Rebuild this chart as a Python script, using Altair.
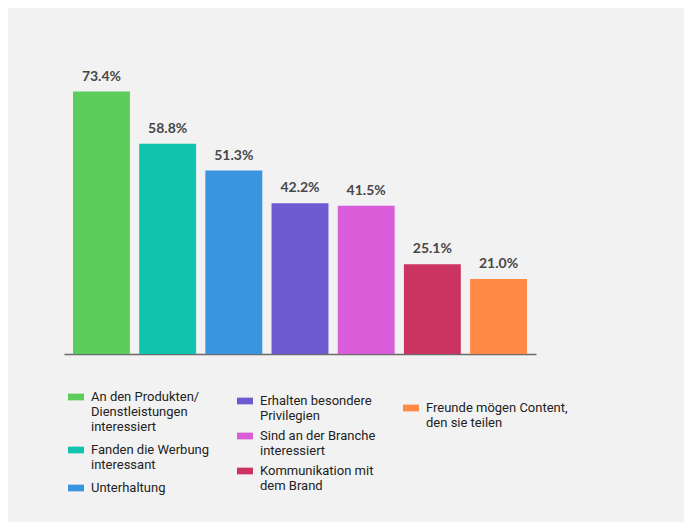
import altair as alt
import pandas as pd

categories = [
    "An den Produkten/|Dienstleistungen|interessiert",
    "Fanden die Werbung|interessant",
    "Unterhaltung",
    "Erhalten besondere|Privilegien",
    "Sind an der Branche|interessiert",
    "Kommunikation mit|dem Brand",
    "Freunde mögen Content,|den sie teilen",
]
values = [73.4, 58.8, 51.3, 42.2, 41.5, 25.1, 21.0]
value_labels = ["73.4%", "58.8%", "51.3%", "42.2%", "41.5%", "25.1%", "21.0%"]
colors = ["#5ccc5a", "#10c4b0", "#3a95e0", "#6d5ad0", "#d95cd9", "#cb3361", "#fe8a46"]
legend_group = [0, 0, 0, 1, 1, 1, 2]

df = pd.DataFrame({
    "cat": categories,
    "value": values,
    "label": value_labels,
    "group": legend_group,
})

FONT = "Roboto"
rect_symbol = "M-1,-0.42H1V0.42H-1Z"

legend_pos = {0: (4, 321), 1: (173, 325), 2: (339, 332)}
row_pad = {0: 8, 1: 5, 2: 5}

x_enc = alt.X(
    "cat:N",
    sort=categories,
    title=None,
    scale=alt.Scale(paddingInner=0.14, paddingOuter=0.136),
    axis=alt.Axis(labels=False, ticks=False, domainColor="#6b6b6b", domainWidth=1.5, grid=False),
)
y_enc = alt.Y("value:Q", scale=alt.Scale(domain=[0, 80]), axis=None)

layers = []
for g in range(3):
    cats_g = [c for c, gg in zip(categories, legend_group) if gg == g]
    cols_g = [col for col, gg in zip(colors, legend_group) if gg == g]
    lx, ly = legend_pos[g]
    layers.append(
        alt.Chart(df)
        .transform_filter(alt.datum.group == g)
        .mark_bar(cornerRadius=0)
        .encode(
            x=x_enc,
            y=y_enc,
            color=alt.Color(
                "cat:N",
                scale=alt.Scale(domain=cats_g, range=cols_g),
                legend=alt.Legend(
                    orient="none",
                    legendX=lx,
                    legendY=ly,
                    direction="vertical",
                    title=None,
                    labelExpr="split(datum.label, '|')",
                    labelFont=FONT,
                    labelFontSize=13,
                    labelColor="#222222",
                    labelLimit=0,
                    labelOffset=7,
                    symbolType=rect_symbol,
                    symbolSize=256,
                    symbolStrokeWidth=0,
                    symbolOpacity=1,
                    rowPadding=row_pad[g],
                ),
            ),
        )
    )

text = (
    alt.Chart(df)
    .mark_text(baseline="bottom", dy=-8, font="Lato", fontWeight="bold", fontSize=14, color="#474747")
    .encode(x=x_enc, y=y_enc, text="label:N")
)

chart = (
    alt.layer(*layers, text)
    .resolve_scale(color="independent")
    .properties(
        width=472,
        height=286,
        background="#f2f2f2",
        padding={"left": 56, "top": 60, "right": 148, "bottom": 168},
        autosize=alt.AutoSizeParams(type="none"),
    )
    .configure_view(stroke=None)
)

chart.save("out.html", embed_options={"renderer": "svg", "actions": False})
